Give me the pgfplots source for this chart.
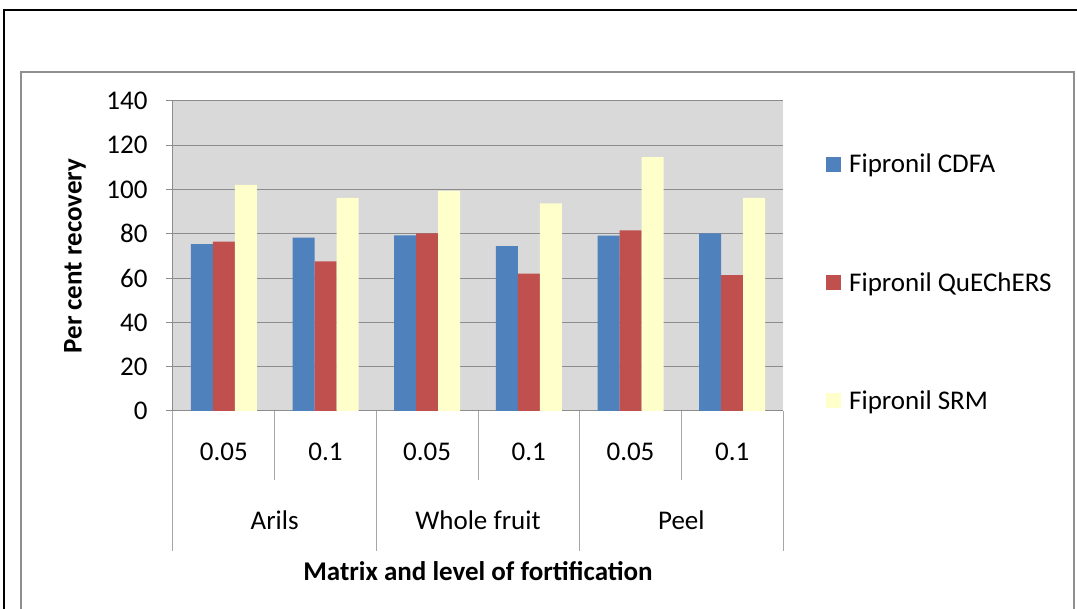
\documentclass[border=0pt]{standalone}
\usepackage{pgfplots}
\pgfplotsset{compat=1.18}
\usepackage{fontspec}
\setmainfont{Carlito}
\definecolor{cblue}{HTML}{4F81BD}
\definecolor{cred}{HTML}{C0504D}
\definecolor{cyel}{HTML}{FFFFCC}
\definecolor{bgray}{HTML}{D9D9D9}
\definecolor{ggray}{HTML}{8C8C8C}
\definecolor{sepgray}{HTML}{A6A6A6}
\definecolor{framegray}{HTML}{8F8F8F}
\begin{document}
\begin{tikzpicture}[x=1pt,y=1pt]
\useasboundingbox (0,0) rectangle (1077,609);
\draw[black, line width=2.5pt] (4,-5) -- (4,599) -- (1085,599);
\draw[framegray, line width=2pt] (21,-5) -- (21,537) -- (1074,537) -- (1074,-5);
\begin{axis}[
  at={(173pt,198pt)}, anchor=south west,
  width=610pt, height=310pt, scale only axis,
  ybar=0pt, bar width=22pt,
  ymin=0, ymax=140, ytick={0,20,...,140},
  xmin=-0.5, xmax=5.5, xtick={0,...,5},
  xticklabels={0.05,0.1,0.05,0.1,0.05,0.1},
  /pgf/number format/assume math mode=true,
  axis background/.style={fill=bgray},
  ymajorgrids, grid style={ggray, line width=1pt},
  axis x line*=bottom, axis y line*=left,
  axis line style={ggray, line width=1pt},
  x tick style={draw=none},
  y tick style={ggray, line width=1pt},
  tick align=outside, major tick length=7pt,
  ticklabel style={font=\fontsize{27}{32}\selectfont, text=black},
  yticklabel style={xshift=-15pt},
  xticklabel style={yshift=-21pt},
  clip=false,
  xlabel={\bfseries Matrix and level of fortification},
  xlabel style={at={(axis description cs:0.5,0)}, anchor=center, yshift=-160pt, font=\fontsize{27}{32}\selectfont},
  ylabel={\bfseries Per cent recovery},
  ylabel style={at={([xshift=-98pt]axis description cs:0,0.5)}, anchor=center, font=\fontsize{27}{32}\selectfont},
  legend image code/.code={\fill[#1,draw=none] (0pt,-7.5pt) rectangle (15pt,7.5pt);},
  legend style={draw=none, fill=none, at={(rel axis cs:1,1)}, anchor=north west,
    xshift=40pt, yshift=-49pt, row sep=94pt, font=\fontsize{27}{32}\selectfont,
    legend cell align=left,
    /tikz/every odd column/.append style={column sep=6pt}},
]
\addplot[fill=cblue, draw=none] coordinates {(0,75.4) (1,78.3) (2,79.3) (3,74.4) (4,79.2) (5,80.2)};
\addplot[fill=cred, draw=none] coordinates {(0,76.5) (1,67.6) (2,80.2) (3,62.0) (4,81.6) (5,61.4)};
\addplot[fill=cyel, draw=none] coordinates {(0,102.1) (1,96.2) (2,99.4) (3,93.8) (4,114.6) (5,96.2)};
\legend{Fipronil CDFA, Fipronil QuEChERS, Fipronil SRM}
\foreach \xx in {-0.5,1.5,3.5,5.5} {
  \edef\tmp{\noexpand\draw[sepgray, line width=1pt] (axis cs:\xx,0) -- ([yshift=-140pt]axis cs:\xx,0);}\tmp
}
\foreach \xx in {0.5,2.5,4.5} {
  \edef\tmp{\noexpand\draw[sepgray, line width=1pt] (axis cs:\xx,0) -- ([yshift=-69pt]axis cs:\xx,0);}\tmp
}
\node[font=\fontsize{27}{32}\selectfont] at ([yshift=-109pt]axis cs:0.5,0) {Arils};
\node[font=\fontsize{27}{32}\selectfont] at ([yshift=-109pt]axis cs:2.5,0) {Whole fruit};
\node[font=\fontsize{27}{32}\selectfont] at ([yshift=-109pt]axis cs:4.5,0) {Peel};
\end{axis}
\end{tikzpicture}
\end{document}
